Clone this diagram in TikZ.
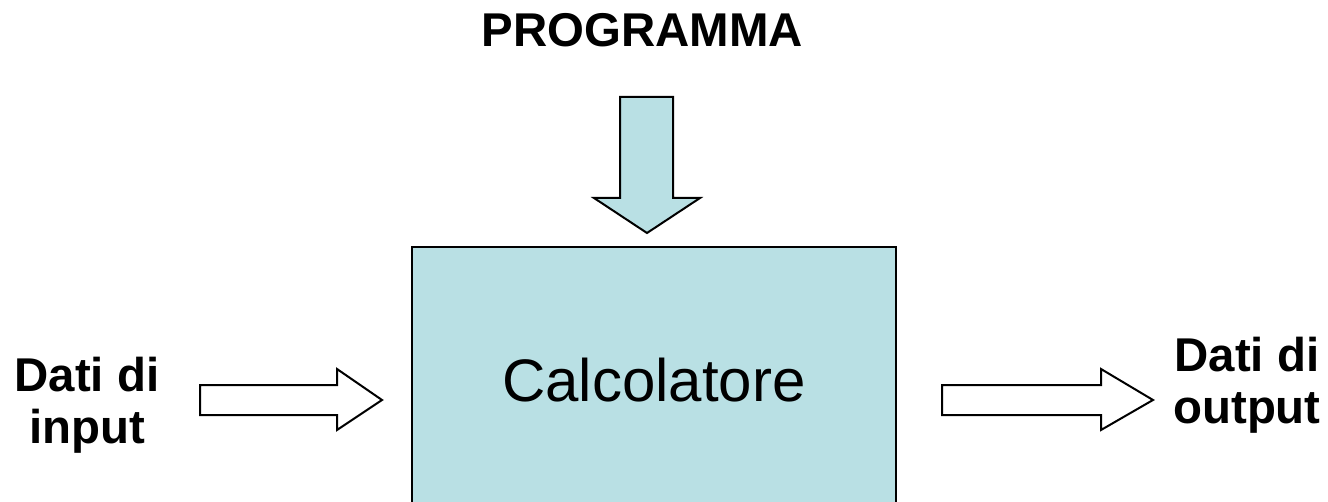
\documentclass[tikz,border=0pt]{standalone}
\usepackage{fontspec}
\setmainfont{Liberation Sans}
\usepackage{tikz}
\usetikzlibrary{positioning}
\definecolor{colorcalc}{HTML}{B9E0E4}
\tikzset{lbl/.style={draw=none, inner sep=0pt, align=center,
  font=\fontsize{23.7pt}{26pt}\selectfont\bfseries}}
\tikzset{calcbox/.style={draw, line width=1.4pt, fill=colorcalc, inner sep=0pt,
  minimum width=242pt, minimum height=133pt,
  font=\fontsize{30pt}{36pt}\selectfont}}
\tikzset{
  blockarrow/.style={draw, line width=1pt, line join=miter, fill=white},
  blockarrowprog/.style={blockarrow, fill=colorcalc}
}

\begin{document}
\begin{tikzpicture}[x=0.5pt, y=-0.5pt]
\useasboundingbox (0,0) rectangle (1328,502);
\clip (0,0) rectangle (1328,502);

\node[lbl](prog) at (642.5,30) {PROGRAMMA};

\node[calcbox](calc) at (654,380) {Calcolatore};

\node[lbl](in) at (87,405) {Dati di\\input};

\node[lbl](out) at (1247,385) {Dati di\\output};

% programma -> calcolatore
\draw[blockarrowprog] (620,97) -- (673,97) -- (673,198) -- (700,198)
  -- (647,233) -- (594,198) -- (620,198) -- cycle;

% input -> calcolatore
\draw[blockarrow] (200,385) -- (337,385) -- (337,369) -- (382,400)
  -- (337,430) -- (337,415) -- (200,415) -- cycle;

% calcolatore -> output
\draw[blockarrow] (942,385) -- (1101,385) -- (1101,369) -- (1153,400)
  -- (1101,430) -- (1101,415) -- (942,415) -- cycle;
\end{tikzpicture}
\end{document}
